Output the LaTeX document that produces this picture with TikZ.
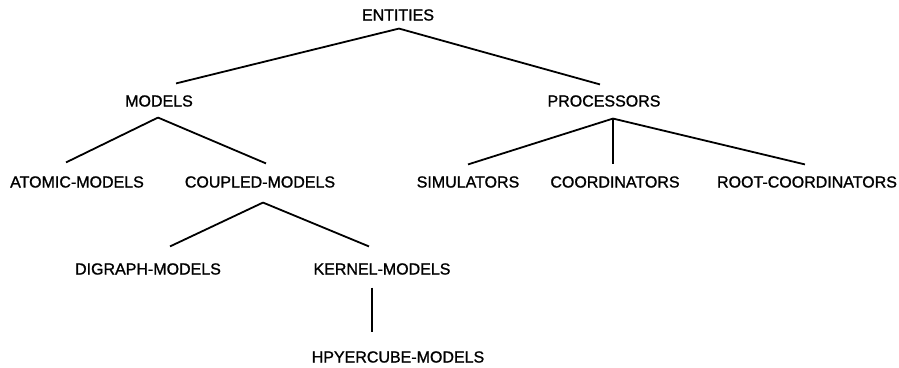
\documentclass[tikz,border=0pt]{standalone}
\usepackage{fontspec}
\newfontfamily\entfont{Liberation Sans}[BoldFont=Liberation Sans, BoldFeatures={FakeBold=1.2}]

\begin{document}
\begin{tikzpicture}[x=1pt, y=1pt, line width=1.8pt, ent/.style = {inner sep=0pt, font=\entfont\bfseries\fontsize{16}{19}\selectfont}]
        \useasboundingbox (0,0) rectangle (899,367);
        \node[ent] (n_ent) at (398,352) {ENTITIES};
        \node[ent] (n_mod) at (159,266) {MODELS};
        \node[ent] (n_proc) at (604,266) {PROCESSORS};
        \node[ent] (n_atom) at (77,185) {ATOMIC-MODELS};
        \node[ent] (n_coup) at (260,185) {COUPLED-MODELS};
        \node[ent] (n_sim) at (468,185) {SIMULATORS};
        \node[ent] (n_coord) at (615,185) {COORDINATORS};
        \node[ent] (n_root) at (807,185) {ROOT-COORDINATORS};
        \node[ent] (n_dig) at (148,98) {DIGRAPH-MODELS};
        \node[ent] (n_ker) at (382,98) {KERNEL-MODELS};
        \node[ent] (n_hyp) at (398,10) {HPYERCUBE-MODELS};

        \draw ([shift={(1,-7)}]n_ent.south) -- ([shift={(17,11)}]n_mod.north);
        \draw ([shift={(1,-7)}]n_ent.south) -- ([shift={(-4,10)}]n_proc.north);
        \draw ([shift={(-1,-10)}]n_mod.south) -- ([shift={(-11,13)}]n_atom.north);
        \draw ([shift={(-1,-10)}]n_mod.south) -- ([shift={(6,12)}]n_coup.north);
        \draw ([shift={(9,-11)}]n_proc.south) -- ([shift={(0,11)}]n_sim.north);
        \draw ([shift={(9,-11)}]n_proc.south) -- ([shift={(-2,11)}]n_coord.north);
        \draw ([shift={(9,-11)}]n_proc.south) -- ([shift={(-2,11)}]n_root.north);
        \draw ([shift={(3,-14)}]n_coup.south) -- ([shift={(22,16)}]n_dig.north);
        \draw ([shift={(3,-14)}]n_coup.south) -- ([shift={(-13,16)}]n_ker.north);
        \draw ([shift={(-10,-12)}]n_ker.south) -- ([shift={(-26,18)}]n_hyp.north);
      \end{tikzpicture}
\end{document}
